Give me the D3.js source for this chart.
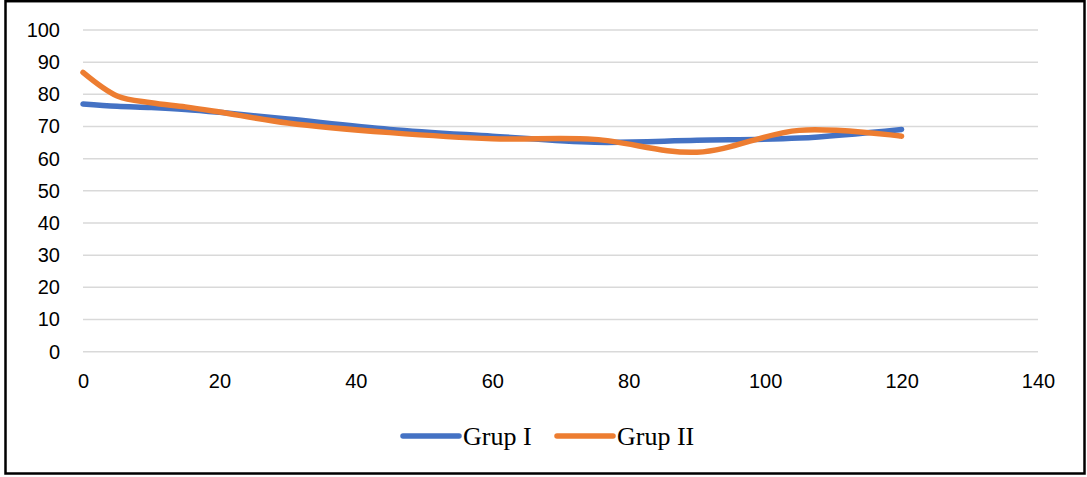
<!DOCTYPE html>
<html>
<head>
<meta charset="utf-8">
<script src="https://cdn.jsdelivr.net/npm/d3@7"></script>
<style>
  body { margin: 0; background: #fff; }
  svg { display: block; }
</style>
</head>
<body>
<svg id="chart" width="1087" height="477"></svg>
<script>
// data
let xValues = [0, 5, 10, 15, 20, 30, 45, 60, 75, 90, 105, 120];
let grup1 = [77.0, 76.3, 75.9, 75.3, 74.4, 72.3, 69.1, 67.0, 65.1, 65.7, 66.4, 69.1];
let grup2 = [86.8, 79.5, 77.4, 76.1, 74.5, 71.1, 68.1, 66.2, 66.0, 62.0, 68.8, 67.0];
let xTicks = [0, 20, 40, 60, 80, 100, 120, 140];
let yTicks = [0, 10, 20, 30, 40, 50, 60, 70, 80, 90, 100];
let seriesNames = ['Grup I', 'Grup II'];
let colors = ['#4472C4', '#ED7D31'];

let margin = { left: 83, right: 49, top: 30, bottom: 125 };
let width = 1087;
let height = 477;

let svg = d3.select('#chart');

// outer frame
svg.append('rect')
    .attr('x', 5.5).attr('y', 1.2)
    .attr('width', 1079).attr('height', 472.3)
    .attr('fill', 'none')
    .attr('stroke', '#000')
    .attr('stroke-width', 2.5);

let x = d3.scaleLinear().domain([0, 140]).range([margin.left, width - margin.right]);
let y = d3.scaleLinear().domain([0, 100]).range([351.7, 30]);

// gridlines
svg.append('g')
    .selectAll('line')
    .data(yTicks)
    .enter()
    .append('line')
    .attr('x1', x(0)).attr('x2', x(140))
    .attr('y1', d => y(d)).attr('y2', d => y(d))
    .attr('stroke', '#d9d9d9')
    .attr('stroke-width', 1.5);

// y axis labels
let yAxis = svg.append('g')
    .attr('transform', 'translate(60,0)')
    .call(d3.axisLeft(y).tickValues(yTicks).tickSize(0).tickPadding(0));
yAxis.select('.domain').remove();
yAxis.selectAll('text')
    .attr('font-family', 'Liberation Sans, Arial, sans-serif')
    .attr('font-size', 20)
    .attr('fill', '#000');

// x axis labels
let xAxis = svg.append('g')
    .attr('transform', 'translate(0,374)')
    .call(d3.axisBottom(x).tickValues(xTicks).tickSize(0).tickPadding(0));
xAxis.select('.domain').remove();
xAxis.selectAll('text')
    .attr('font-family', 'Liberation Sans, Arial, sans-serif')
    .attr('font-size', 20)
    .attr('fill', '#000');

let line = d3.line()
    .x(d => x(d[0]))
    .y(d => y(d[1]))
    .curve(d3.curveCatmullRom.alpha(0.5));

let series = [grup1, grup2];
series.forEach(function (vals, i) {
    svg.append('path')
        .datum(xValues.map((v, j) => [v, vals[j]]))
        .attr('d', line)
        .attr('fill', 'none')
        .attr('stroke', colors[i])
        .attr('stroke-width', 5.5)
        .attr('stroke-linecap', 'round')
        .attr('stroke-linejoin', 'round');
});

// legend
let legendX = [403, 557];
let legend = svg.append('g');
seriesNames.forEach(function (name, i) {
    legend.append('line')
        .attr('x1', legendX[i]).attr('x2', legendX[i] + 56)
        .attr('y1', 436).attr('y2', 436)
        .attr('stroke', colors[i])
        .attr('stroke-width', 5.5)
        .attr('stroke-linecap', 'round');
    legend.append('text')
        .attr('x', legendX[i] + 60)
        .attr('y', 445)
        .attr('font-family', 'Liberation Serif, Times New Roman, serif')
        .attr('font-size', 26)
        .attr('fill', '#000')
        .text(name);
});
</script>
</body>
</html>
